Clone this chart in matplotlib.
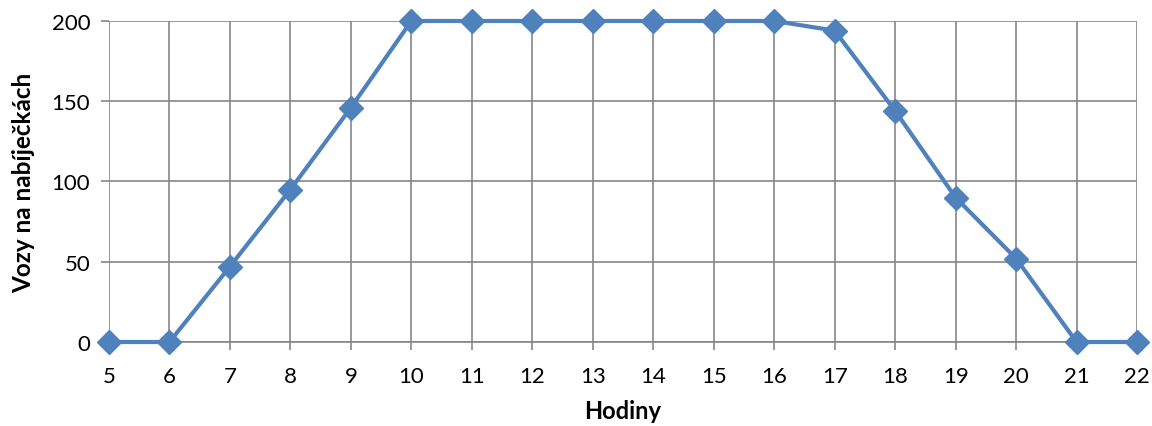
import matplotlib
matplotlib.use("Agg")
import matplotlib.pyplot as plt

# hodiny a pocet vozu na nabijeckach
hodiny = [5, 6, 7, 8, 9, 10, 11, 12, 13, 14, 15, 16, 17, 18, 19, 20, 21, 22]
vozy = [0, 0, 47, 95, 146, 200, 200, 200, 200, 200, 200, 200, 194, 144, 90, 52, 0, 0]
y_ticks = [0, 50, 100, 150, 200]

plt.rcParams['font.family'] = ['Lato', 'DejaVu Sans']
seda = '#868686'

fig = plt.figure(figsize=(11.52, 4.27), dpi=100)
ax = fig.add_axes([0.0946, 0.1967, 0.8924, 0.7518])

ax.plot(hodiny, vozy, color='#4F81BD', linewidth=3, marker='D',
        markersize=12, zorder=3, clip_on=False)

ax.set_xlim(5, 22)
ax.set_ylim(0, 200)
ax.set_xticks(hodiny)
ax.set_yticks(y_ticks)
ax.grid(True, color=seda, linewidth=1.2)
for s in ['top', 'right', 'left']:
    ax.spines[s].set_visible(False)
ax.spines['bottom'].set_color(seda)
ax.spines['bottom'].set_linewidth(1.2)
ax.tick_params(axis='both', colors=seda, length=5.5, width=1.2,
               labelsize=16, labelcolor='black')
ax.tick_params(axis='x', pad=12)
ax.tick_params(axis='y', pad=8)

ax.set_xlabel('Hodiny', fontsize=17, fontweight='bold', labelpad=9)
ax.set_ylabel('Vozy na nabíječkách', fontsize=17.5, fontweight='bold', labelpad=12)

fig.savefig('out.png', dpi=100)
